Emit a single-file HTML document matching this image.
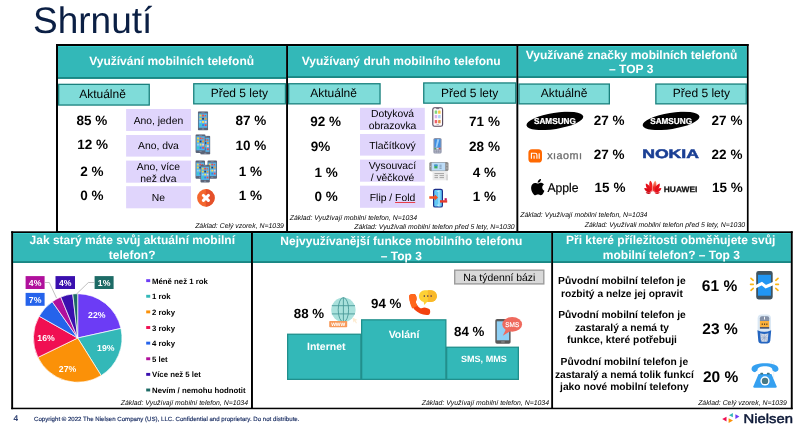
<!DOCTYPE html>
<html><head><meta charset="utf-8"><title>Shrnutí</title>
<style>
html,body{margin:0;padding:0;background:#fff;width:800px;height:430px;overflow:hidden;}
body{width:800px;height:430px;position:relative;overflow:hidden;font-family:"Liberation Sans",sans-serif;text-rendering:geometricPrecision;}
.t{position:absolute;white-space:nowrap;}
.b{position:absolute;box-sizing:border-box;}
</style></head><body><div id="c" style="position:absolute;left:0;top:0;width:800px;height:430px;overflow:hidden;"><div id="w" style="position:absolute;left:0;top:0;width:800px;height:430px;opacity:0.9999;will-change:transform;">
<svg class="b" style="left:0;top:0" width="800" height="430" viewBox="0 0 800 430"><rect x="58.00" y="46.00" width="228.10" height="32.80" fill="#33b8b8"/><rect x="58.00" y="46.00" width="228.10" height="0.90" fill="#3acfcf"/><rect x="58.00" y="77.10" width="228.10" height="1.70" fill="#17827f"/><rect x="288.00" y="46.00" width="228.40" height="31.90" fill="#33b8b8"/><rect x="288.00" y="46.00" width="228.40" height="0.90" fill="#3acfcf"/><rect x="288.00" y="76.20" width="228.40" height="1.70" fill="#17827f"/><rect x="518.30" y="46.00" width="228.60" height="31.90" fill="#33b8b8"/><rect x="518.30" y="46.00" width="228.60" height="0.90" fill="#3acfcf"/><rect x="518.30" y="76.20" width="228.60" height="1.70" fill="#17827f"/><rect x="56.00" y="44.00" width="2.00" height="189.00" fill="#000"/><rect x="56.00" y="44.00" width="692.60" height="2.00" fill="#000"/><rect x="746.90" y="44.00" width="1.70" height="189.00" fill="#000"/><rect x="286.10" y="44.00" width="1.90" height="189.00" fill="#000"/><rect x="516.40" y="44.00" width="1.90" height="189.00" fill="#000"/><rect x="58.65" y="84.35" width="90.60" height="20.70" fill="#7fdcd9" stroke="#1a807d" stroke-width="1.3"/><rect x="193.75" y="83.75" width="91.70" height="20.10" fill="#7fdcd9" stroke="#1a807d" stroke-width="1.3"/><rect x="288.65" y="83.75" width="91.40" height="20.10" fill="#7fdcd9" stroke="#1a807d" stroke-width="1.3"/><rect x="423.75" y="82.95" width="92.00" height="20.20" fill="#7fdcd9" stroke="#1a807d" stroke-width="1.3"/><rect x="518.95" y="84.05" width="90.40" height="19.80" fill="#7fdcd9" stroke="#1a807d" stroke-width="1.3"/><rect x="655.85" y="84.05" width="90.40" height="19.80" fill="#7fdcd9" stroke="#1a807d" stroke-width="1.3"/><rect x="126.10" y="109.00" width="64.90" height="22.00" fill="#e0d5fc"/><rect x="126.10" y="135.00" width="64.90" height="21.60" fill="#e0d5fc"/><rect x="126.10" y="160.60" width="64.90" height="22.10" fill="#e0d5fc"/><rect x="126.10" y="186.20" width="64.90" height="22.10" fill="#e0d5fc"/><rect x="360.00" y="107.80" width="64.80" height="22.20" fill="#e0d5fc"/><rect x="360.00" y="134.00" width="64.80" height="21.60" fill="#e0d5fc"/><rect x="360.00" y="159.60" width="64.80" height="22.10" fill="#e0d5fc"/><rect x="360.00" y="185.70" width="64.80" height="22.10" fill="#e0d5fc"/><rect x="13.10" y="233.00" width="237.90" height="29.90" fill="#33b8b8"/><rect x="13.10" y="233.00" width="237.90" height="0.90" fill="#3acfcf"/><rect x="13.10" y="261.20" width="237.90" height="1.70" fill="#17827f"/><rect x="252.95" y="233.00" width="298.25" height="29.90" fill="#33b8b8"/><rect x="252.95" y="233.00" width="298.25" height="0.90" fill="#3acfcf"/><rect x="252.95" y="261.20" width="298.25" height="1.70" fill="#17827f"/><rect x="553.05" y="233.00" width="237.75" height="29.90" fill="#33b8b8"/><rect x="553.05" y="233.00" width="237.75" height="0.90" fill="#3acfcf"/><rect x="553.05" y="261.20" width="237.75" height="1.70" fill="#17827f"/><rect x="11.20" y="231.30" width="1.90" height="177.90" fill="#000"/><rect x="11.20" y="231.30" width="781.50" height="1.70" fill="#000"/><rect x="790.80" y="231.30" width="1.90" height="177.90" fill="#000"/><rect x="11.20" y="407.70" width="781.50" height="1.50" fill="#000"/><rect x="251.00" y="231.30" width="1.95" height="177.70" fill="#000"/><rect x="551.20" y="231.30" width="1.85" height="177.70" fill="#000"/><rect x="56.00" y="231.00" width="692.60" height="2.00" fill="#000"/><rect x="146.20" y="279.20" width="4.00" height="2.90" fill="#6c3cf5"/><rect x="146.20" y="294.82" width="4.00" height="2.90" fill="#33b8b8"/><rect x="146.20" y="310.44" width="4.00" height="2.90" fill="#fb9108"/><rect x="146.20" y="326.06" width="4.00" height="2.90" fill="#f00f52"/><rect x="146.20" y="341.68" width="4.00" height="2.90" fill="#2563eb"/><rect x="146.20" y="357.30" width="4.00" height="2.90" fill="#b0109c"/><rect x="146.20" y="372.92" width="4.00" height="2.90" fill="#3a0fae"/><rect x="146.20" y="388.54" width="4.00" height="2.90" fill="#1d6b66"/><rect x="25.60" y="276.10" width="19.00" height="12.90" fill="#b0109c"/><rect x="55.50" y="276.10" width="19.50" height="12.90" fill="#3a0fae"/><rect x="94.60" y="276.10" width="19.00" height="12.90" fill="#1d6b66"/><rect x="25.60" y="292.90" width="19.00" height="12.90" fill="#2563eb"/><rect x="454.70" y="270.20" width="89.10" height="13.70" fill="#d9d9d9" stroke="#9c9c9c" stroke-width="1.4"/><rect x="287.65" y="334.25" width="73.20" height="45.10" fill="#33b8b8" stroke="#208f8c" stroke-width="1.3"/><rect x="361.65" y="319.85" width="84.20" height="59.50" fill="#33b8b8" stroke="#208f8c" stroke-width="1.3"/><rect x="446.65" y="347.25" width="71.70" height="32.10" fill="#33b8b8" stroke="#208f8c" stroke-width="1.3"/></svg>
<div class="t" style="left:33.00px;top:-2px;font-size:37px;line-height:45px;color:#0b1f44;">Shrnutí</div>
<div class="t" style="left:-28.35px;width:400px;text-align:center;top:54px;font-size:12px;line-height:15px;font-weight:bold;color:#fff;">Využívání mobilních telefonů</div>
<div class="t" style="left:201.25px;width:400px;text-align:center;top:54px;font-size:12px;line-height:15px;font-weight:bold;color:#fff;">Využívaný druh mobilního telefonu</div>
<div class="t" style="left:431.50px;width:400px;text-align:center;top:48px;font-size:12px;line-height:15px;font-weight:bold;color:#fff;">Využívané značky mobilních telefonů</div>
<div class="t" style="left:431.20px;width:400px;text-align:center;top:62px;font-size:12px;line-height:15px;font-weight:bold;color:#fff;">– TOP 3</div>
<div class="t" style="left:-97.50px;width:400px;text-align:center;top:87px;font-size:12px;line-height:15px;color:#000;">Aktuálně</div>
<div class="t" style="left:39.35px;width:400px;text-align:center;top:86px;font-size:12px;line-height:15px;color:#000;">Před 5 lety</div>
<div class="t" style="left:133.60px;width:400px;text-align:center;top:86px;font-size:12px;line-height:15px;color:#000;">Aktuálně</div>
<div class="t" style="left:269.70px;width:400px;text-align:center;top:86px;font-size:12px;line-height:15px;color:#000;">Před 5 lety</div>
<div class="t" style="left:364.00px;width:400px;text-align:center;top:86px;font-size:12px;line-height:15px;color:#000;">Aktuálně</div>
<div class="t" style="left:501.40px;width:400px;text-align:center;top:86px;font-size:12px;line-height:15px;color:#000;">Před 5 lety</div>
<div class="t" style="left:-41.60px;width:400px;text-align:center;top:115px;font-size:10.35px;line-height:13px;color:#000;">Ano, jeden</div>
<div class="t" style="left:-41.60px;width:400px;text-align:center;top:140px;font-size:10.35px;line-height:13px;color:#000;">Ano, dva</div>
<div class="t" style="left:-41.60px;width:400px;text-align:center;top:161px;font-size:10.35px;line-height:13px;color:#000;">Ano, více</div>
<div class="t" style="left:-41.60px;width:400px;text-align:center;top:173px;font-size:10.35px;line-height:13px;color:#000;">než dva</div>
<div class="t" style="left:-41.60px;width:400px;text-align:center;top:192px;font-size:10.35px;line-height:13px;color:#000;">Ne</div>
<div class="t" style="left:192.50px;width:400px;text-align:center;top:108px;font-size:10.35px;line-height:13px;color:#000;">Dotyková</div>
<div class="t" style="left:192.50px;width:400px;text-align:center;top:120px;font-size:10.35px;line-height:13px;color:#000;">obrazovka</div>
<div class="t" style="left:192.50px;width:400px;text-align:center;top:140px;font-size:10.35px;line-height:13px;color:#000;">Tlačítkový</div>
<div class="t" style="left:192.50px;width:400px;text-align:center;top:160px;font-size:10.35px;line-height:13px;color:#000;">Vysouvací</div>
<div class="t" style="left:192.50px;width:400px;text-align:center;top:172px;font-size:10.35px;line-height:13px;color:#000;">/ věčkové</div>
<div class="t" style="left:192.50px;width:400px;text-align:center;top:192px;font-size:10.35px;line-height:13px;color:#000;">Flip / <span style="text-decoration:underline solid #e8404a 0.7px;text-underline-offset:0.6px;">Fold</span></div>
<div class="t" style="left:-108.10px;width:400px;text-align:center;top:112px;font-size:13.5px;line-height:17px;font-weight:bold;color:#000;">85 %</div>
<div class="t" style="left:-107.30px;width:400px;text-align:center;top:136px;font-size:13.5px;line-height:17px;font-weight:bold;color:#000;">12 %</div>
<div class="t" style="left:-108.20px;width:400px;text-align:center;top:163px;font-size:13.5px;line-height:17px;font-weight:bold;color:#000;">2 %</div>
<div class="t" style="left:-108.20px;width:400px;text-align:center;top:187px;font-size:13.5px;line-height:17px;font-weight:bold;color:#000;">0 %</div>
<div class="t" style="left:50.80px;width:400px;text-align:center;top:112px;font-size:13.5px;line-height:17px;font-weight:bold;color:#000;">87 %</div>
<div class="t" style="left:50.80px;width:400px;text-align:center;top:137px;font-size:13.5px;line-height:17px;font-weight:bold;color:#000;">10 %</div>
<div class="t" style="left:50.50px;width:400px;text-align:center;top:163px;font-size:13.5px;line-height:17px;font-weight:bold;color:#000;">1 %</div>
<div class="t" style="left:50.50px;width:400px;text-align:center;top:187px;font-size:13.5px;line-height:17px;font-weight:bold;color:#000;">1 %</div>
<div class="t" style="left:125.70px;width:400px;text-align:center;top:113px;font-size:13.5px;line-height:17px;font-weight:bold;color:#000;">92 %</div>
<div class="t" style="left:120.50px;width:400px;text-align:center;top:138px;font-size:13.5px;line-height:17px;font-weight:bold;color:#000;">9%</div>
<div class="t" style="left:126.20px;width:400px;text-align:center;top:164px;font-size:13.5px;line-height:17px;font-weight:bold;color:#000;">1 %</div>
<div class="t" style="left:126.20px;width:400px;text-align:center;top:188px;font-size:13.5px;line-height:17px;font-weight:bold;color:#000;">0 %</div>
<div class="t" style="left:284.50px;width:400px;text-align:center;top:113px;font-size:13.5px;line-height:17px;font-weight:bold;color:#000;">71 %</div>
<div class="t" style="left:284.50px;width:400px;text-align:center;top:138px;font-size:13.5px;line-height:17px;font-weight:bold;color:#000;">28 %</div>
<div class="t" style="left:284.40px;width:400px;text-align:center;top:164px;font-size:13.5px;line-height:17px;font-weight:bold;color:#000;">4 %</div>
<div class="t" style="left:284.40px;width:400px;text-align:center;top:188px;font-size:13.5px;line-height:17px;font-weight:bold;color:#000;">1 %</div>
<div class="t" style="left:409.10px;width:400px;text-align:center;top:112px;font-size:13.5px;line-height:17px;font-weight:bold;color:#000;">27 %</div>
<div class="t" style="left:409.10px;width:400px;text-align:center;top:146px;font-size:13.5px;line-height:17px;font-weight:bold;color:#000;">27 %</div>
<div class="t" style="left:410.00px;width:400px;text-align:center;top:179px;font-size:13.5px;line-height:17px;font-weight:bold;color:#000;">15 %</div>
<div class="t" style="left:527.00px;width:400px;text-align:center;top:112px;font-size:13.5px;line-height:17px;font-weight:bold;color:#000;">27 %</div>
<div class="t" style="left:527.00px;width:400px;text-align:center;top:146px;font-size:13.5px;line-height:17px;font-weight:bold;color:#000;">22 %</div>
<div class="t" style="left:527.30px;width:400px;text-align:center;top:179px;font-size:13.5px;line-height:17px;font-weight:bold;color:#000;">15 %</div>
<div class="t" style="left:-116.20px;width:400px;text-align:right;top:222px;font-size:6.9px;line-height:9px;font-style:italic;color:#000;">Základ: Celý vzorek, N=1039</div>
<div class="t" style="left:289.75px;top:214px;font-size:6.9px;line-height:9px;font-style:italic;color:#000;">Základ: Využívají mobilní telefon, N=1034</div>
<div class="t" style="left:354.20px;top:223px;font-size:6.9px;line-height:9px;font-style:italic;color:#000;">Základ: Využívali mobilní telefon před 5 lety, N=1030</div>
<div class="t" style="left:520.20px;top:211px;font-size:6.9px;line-height:9px;font-style:italic;color:#000;">Základ: Využívají mobilní telefon, N=1034</div>
<div class="t" style="left:584.70px;top:221px;font-size:6.9px;line-height:9px;font-style:italic;color:#000;">Základ: Využívali mobilní telefon před 5 lety, N=1030</div>
<div class="t" style="left:-67.70px;width:400px;text-align:center;top:233px;font-size:12px;line-height:15px;font-weight:bold;color:#fff;">Jak starý máte svůj aktuální mobilní</div>
<div class="t" style="left:-67.80px;width:400px;text-align:center;top:248px;font-size:12px;line-height:15px;font-weight:bold;color:#fff;">telefon?</div>
<div class="t" style="left:201.40px;width:400px;text-align:center;top:234px;font-size:12px;line-height:15px;font-weight:bold;color:#fff;">Nejvyužívanější funkce mobilního telefonu</div>
<div class="t" style="left:201.40px;width:400px;text-align:center;top:249px;font-size:12px;line-height:15px;font-weight:bold;color:#fff;">– Top 3</div>
<div class="t" style="left:470.70px;width:400px;text-align:center;top:233px;font-size:12px;line-height:15px;font-weight:bold;color:#fff;">Při které příležitosti obměňujete svůj</div>
<div class="t" style="left:471.40px;width:400px;text-align:center;top:248px;font-size:12px;line-height:15px;font-weight:bold;color:#fff;">mobilní telefon? – Top 3</div>
<div class="t" style="left:152.00px;top:277px;font-size:7.8px;line-height:10px;font-weight:bold;color:#000;">Méně než 1 rok</div>
<div class="t" style="left:152.00px;top:292px;font-size:7.8px;line-height:10px;font-weight:bold;color:#000;">1 rok</div>
<div class="t" style="left:152.00px;top:308px;font-size:7.8px;line-height:10px;font-weight:bold;color:#000;">2 roky</div>
<div class="t" style="left:152.00px;top:324px;font-size:7.8px;line-height:10px;font-weight:bold;color:#000;">3 roky</div>
<div class="t" style="left:152.00px;top:339px;font-size:7.8px;line-height:10px;font-weight:bold;color:#000;">4 roky</div>
<div class="t" style="left:152.00px;top:355px;font-size:7.8px;line-height:10px;font-weight:bold;color:#000;">5 let</div>
<div class="t" style="left:152.00px;top:370px;font-size:7.8px;line-height:10px;font-weight:bold;color:#000;">Více než 5 let</div>
<div class="t" style="left:152.00px;top:386px;font-size:7.8px;line-height:10px;font-weight:bold;color:#000;">Nevím / nemohu hodnotit</div>
<div class="t" style="left:-152.00px;width:400px;text-align:right;top:399px;font-size:6.9px;line-height:9px;font-style:italic;color:#000;">Základ: Využívají mobilní telefon, N=1034</div>
<div class="t" style="left:149.00px;width:400px;text-align:right;top:399px;font-size:6.9px;line-height:9px;font-style:italic;color:#000;">Základ: Využívají mobilní telefon, N=1034</div>
<div class="t" style="left:386.80px;width:400px;text-align:right;top:399px;font-size:6.9px;line-height:9px;font-style:italic;color:#000;">Základ: Celý vzorek, N=1039</div>
<svg class="b" style="left:0;top:0" width="800" height="430" viewBox="0 0 800 430"><path d="M77.7,338 L77.70,293.70 A44.3,44.3 0 0 1 120.95,328.41 Z" fill="#6c3cf5" stroke="#fff" stroke-width="0.7" stroke-linejoin="round"/><path d="M77.7,338 L120.95,328.41 A44.3,44.3 0 0 1 101.18,375.57 Z" fill="#33b8b8" stroke="#fff" stroke-width="0.7" stroke-linejoin="round"/><path d="M77.7,338 L101.18,375.57 A44.3,44.3 0 0 1 37.88,357.42 Z" fill="#fb9108" stroke="#fff" stroke-width="0.7" stroke-linejoin="round"/><path d="M77.7,338 L37.88,357.42 A44.3,44.3 0 0 1 39.14,316.19 Z" fill="#f00f52" stroke="#fff" stroke-width="0.7" stroke-linejoin="round"/><path d="M77.7,338 L39.14,316.19 A44.3,44.3 0 0 1 52.29,301.71 Z" fill="#2563eb" stroke="#fff" stroke-width="0.7" stroke-linejoin="round"/><path d="M77.7,338 L52.29,301.71 A44.3,44.3 0 0 1 60.75,297.07 Z" fill="#b0109c" stroke="#fff" stroke-width="0.7" stroke-linejoin="round"/><path d="M77.7,338 L60.75,297.07 A44.3,44.3 0 0 1 72.76,293.98 Z" fill="#3a0fae" stroke="#fff" stroke-width="0.7" stroke-linejoin="round"/><path d="M77.7,338 L72.76,293.98 A44.3,44.3 0 0 1 77.70,293.70 Z" fill="#1d6b66" stroke="#fff" stroke-width="0.7" stroke-linejoin="round"/><path d="M44.6,282.5 H49.3 L56.5,298" fill="none" stroke="#a6a6a6" stroke-width="0.7"/><path d="M94.6,282.5 H88.4 L76.5,294" fill="none" stroke="#a6a6a6" stroke-width="0.7"/></svg>
<div class="t" style="left:-164.90px;width:400px;text-align:center;top:278px;font-size:8.7px;line-height:11px;font-weight:bold;color:#fff;">4%</div>
<div class="t" style="left:-134.75px;width:400px;text-align:center;top:278px;font-size:8.7px;line-height:11px;font-weight:bold;color:#fff;">4%</div>
<div class="t" style="left:-95.90px;width:400px;text-align:center;top:278px;font-size:8.7px;line-height:11px;font-weight:bold;color:#fff;">1%</div>
<div class="t" style="left:-164.90px;width:400px;text-align:center;top:295px;font-size:8.7px;line-height:11px;font-weight:bold;color:#fff;">7%</div>
<div class="t" style="left:-103.20px;width:400px;text-align:center;top:310px;font-size:8.7px;line-height:11px;font-weight:bold;color:#fff;">22%</div>
<div class="t" style="left:-94.20px;width:400px;text-align:center;top:343px;font-size:8.7px;line-height:11px;font-weight:bold;color:#fff;">19%</div>
<div class="t" style="left:-132.50px;width:400px;text-align:center;top:364px;font-size:8.7px;line-height:11px;font-weight:bold;color:#fff;">27%</div>
<div class="t" style="left:-154.00px;width:400px;text-align:center;top:333px;font-size:8.7px;line-height:11px;font-weight:bold;color:#fff;">16%</div>
<div class="t" style="left:299.25px;width:400px;text-align:center;top:272px;font-size:10.4px;line-height:13px;color:#000;">Na týdenní bázi</div>
<div class="t" style="left:126.30px;width:400px;text-align:center;top:341px;font-size:10.5px;line-height:13px;font-weight:bold;color:#fff;">Internet</div>
<div class="t" style="left:204.00px;width:400px;text-align:center;top:329px;font-size:10.5px;line-height:13px;font-weight:bold;color:#fff;">Volání</div>
<div class="t" style="left:283.90px;width:400px;text-align:center;top:354px;font-size:9.05px;line-height:11px;font-weight:bold;color:#fff;">SMS, MMS</div>
<div class="t" style="left:109.00px;width:400px;text-align:center;top:306px;font-size:13.3px;line-height:16px;font-weight:bold;color:#000;">88 %</div>
<div class="t" style="left:186.20px;width:400px;text-align:center;top:296px;font-size:13.3px;line-height:16px;font-weight:bold;color:#000;">94 %</div>
<div class="t" style="left:269.20px;width:400px;text-align:center;top:324px;font-size:13.3px;line-height:16px;font-weight:bold;color:#000;">84 %</div>
<div class="t" style="left:421.90px;width:400px;text-align:center;top:275px;font-size:10.25px;line-height:13px;font-weight:bold;color:#000;">Původní mobilní telefon je</div>
<div class="t" style="left:421.90px;width:400px;text-align:center;top:288px;font-size:10.25px;line-height:13px;font-weight:bold;color:#000;">rozbitý a nelze jej opravit</div>
<div class="t" style="left:422.00px;width:400px;text-align:center;top:309px;font-size:10.25px;line-height:13px;font-weight:bold;color:#000;">Původní mobilní telefon je</div>
<div class="t" style="left:422.00px;width:400px;text-align:center;top:322px;font-size:10.25px;line-height:13px;font-weight:bold;color:#000;">zastaralý a nemá ty</div>
<div class="t" style="left:422.00px;width:400px;text-align:center;top:334px;font-size:10.25px;line-height:13px;font-weight:bold;color:#000;">funkce, které potřebuji</div>
<div class="t" style="left:424.40px;width:400px;text-align:center;top:356px;font-size:10.25px;line-height:13px;font-weight:bold;color:#000;">Původní mobilní telefon je</div>
<div class="t" style="left:424.40px;width:400px;text-align:center;top:369px;font-size:10.25px;line-height:13px;font-weight:bold;color:#000;">zastaralý a nemá tolik funkcí</div>
<div class="t" style="left:424.40px;width:400px;text-align:center;top:381px;font-size:10.25px;line-height:13px;font-weight:bold;color:#000;">jako nové mobilní telefony</div>
<div class="t" style="left:519.50px;width:400px;text-align:center;top:277px;font-size:15.5px;line-height:19px;font-weight:bold;color:#000;">61 %</div>
<div class="t" style="left:520.00px;width:400px;text-align:center;top:320px;font-size:15.5px;line-height:19px;font-weight:bold;color:#000;">23 %</div>
<div class="t" style="left:520.60px;width:400px;text-align:center;top:368px;font-size:15.5px;line-height:19px;font-weight:bold;color:#000;">20 %</div>
<div class="t" style="left:13.60px;top:413px;font-size:8.4px;line-height:11px;color:#1a2e63;-webkit-text-stroke:0.2px #1a2e63;">4</div>
<div class="t" style="left:34.00px;top:416px;font-size:6.1px;line-height:8px;color:#1a2e63;-webkit-text-stroke:0.15px #1a2e63;">Copyright © 2022 The Nielsen Company (US), LLC. Confidential and proprietary. Do not distribute.</div>
<svg class="b" style="left:0;top:0" width="800" height="430" viewBox="0 0 800 430" font-family="Liberation Sans, sans-serif" text-rendering="geometricPrecision">
<defs>
<symbol id="ph" viewBox="0 0 10.4 19.2">
<rect x="0" y="0" width="10.4" height="19.2" rx="1.3" fill="#5b6478"/>
<rect x="0.9" y="2.1" width="8.6" height="14.4" fill="#55b3ea"/>
<rect x="3.6" y="0.8" width="3.2" height="0.6" fill="#8d95a8"/>
<rect x="4" y="17.3" width="2.4" height="1" rx="0.4" fill="#8d95a8"/>
<rect x="1.7" y="3.3" width="1.9" height="1.9" fill="#fbd23a"/><rect x="4.3" y="3.3" width="1.9" height="1.9" fill="#ef4b4b"/><rect x="6.9" y="3.7" width="1.4" height="1.4" fill="#e8603a"/>
<rect x="1.7" y="6.5" width="1.9" height="1.9" fill="#fbd23a"/><rect x="4.3" y="6.5" width="1.9" height="1.9" fill="#2d3f6b"/><rect x="6.9" y="6.5" width="1.9" height="1.9" fill="#f59a2f"/>
<rect x="1.7" y="9.7" width="1.9" height="1.9" fill="#8fd4f5"/><rect x="4.3" y="9.7" width="1.9" height="1.9" fill="#fbe04a"/><rect x="6.9" y="9.7" width="1.9" height="1.9" fill="#f7c6cf"/>
<rect x="1.7" y="12.9" width="1.9" height="1.9" fill="#2fd6c4"/><rect x="4.3" y="12.9" width="1.9" height="1.9" fill="#3b7fe0"/><rect x="6.9" y="12.9" width="1.9" height="1.9" fill="#ef4b4b"/>
</symbol>
<symbol id="sam" viewBox="-30 -10 60 20">
<ellipse cx="0" cy="0" rx="29.5" ry="8.3" transform="rotate(-9)" fill="#000"/>
<text x="0" y="3.2" font-size="8.8" font-weight="bold" fill="#fff" stroke="#fff" stroke-width="0.25" text-anchor="middle" textLength="43" lengthAdjust="spacingAndGlyphs">SAMSUNG</text>
</symbol>
<linearGradient id="hwg" x1="0" y1="0" x2="0" y2="1"><stop offset="0" stop-color="#f9a57c"/><stop offset="0.6" stop-color="#ee2a22"/></linearGradient>
</defs>
<!-- panel 1 phones -->
<use href="#ph" x="197.8" y="111.3" width="10.4" height="19.2"/>
<use href="#ph" x="200.2" y="135.5" width="10.2" height="19.2"/>
<use href="#ph" x="195.3" y="134.2" width="10.4" height="18.8"/>
<use href="#ph" x="195.3" y="160" width="9.8" height="19.2"/>
<use href="#ph" x="207.3" y="160" width="9.8" height="19.2"/>
<use href="#ph" x="200.3" y="164.2" width="9.6" height="18.8"/>
<!-- X icon -->
<circle cx="205.9" cy="197.9" r="8.8" fill="#f4672e"/>
<path d="M205.9,189.1 A8.8,8.8 0 0 1 205.9,206.7 Z" fill="#e4502a"/>
<g transform="translate(205.9 197.9) rotate(45)"><rect x="-5" y="-1.5" width="10" height="3" rx="1.2" fill="#fff"/><rect x="-1.5" y="-5" width="3" height="10" rx="1.2" fill="#fff"/></g>
<!-- touch phone -->
<rect x="432.8" y="107.7" width="9.8" height="18.6" rx="1.8" fill="#fffafa" stroke="#54455a" stroke-width="1.1"/>
<rect x="436.2" y="108.3" width="3" height="0.8" fill="#54455a"/>
<rect x="436.5" y="124.4" width="2.400" height="0.500" fill="#8a7a8f"/>
<rect x="434.700" y="110.600" width="2.500" height="3.200" rx="0.400" fill="#7ed67e"/><rect x="438.100" y="110.600" width="2.500" height="3.200" rx="0.400" fill="#f7c744"/>
<rect x="434.700" y="115.100" width="2.500" height="3.200" rx="0.400" fill="#d9b3f0"/><rect x="438.100" y="115.100" width="2.500" height="3.200" rx="0.400" fill="#a9d4f7"/>
<rect x="434.700" y="120.100" width="2.500" height="3.200" rx="0.400" fill="#f0606a"/><rect x="438.100" y="120.100" width="2.500" height="3.200" rx="0.400" fill="#d99545"/>
<!-- button phone -->
<rect x="433.400" y="137.900" width="8.200" height="15.700" rx="1.600" fill="#8e93a8"/>
<rect x="434.500" y="139.200" width="6" height="8.200" fill="#3f8fe3"/>
<path d="M437.200,139.200 L439.400,139.200 L437.200,147.400 L435.600,147.400 Z" fill="#9ccdf7"/>
<rect x="434.500" y="148.100" width="1.700" height="1.100" fill="#3fae5a"/><rect x="438.800" y="148.100" width="1.700" height="1.100" fill="#e04545"/>
<rect x="436.500" y="147.900" width="2" height="1.500" fill="#dfe1ea"/>
<rect x="434.500" y="149.900" width="6" height="2.800" fill="#b3b7c6"/>
<path d="M436.500,149.900 V152.700 M438.500,149.900 V152.700 M434.500,151.300 H440.500" stroke="#7f8499" stroke-width="0.400"/>
<!-- slider phone -->
<rect x="429.3" y="162" width="19.2" height="9.2" rx="1.6" fill="#8d8d8d"/>
<rect x="431.6" y="162.6" width="13.6" height="8" fill="#bcdcf7"/>
<rect x="434.3" y="164.6" width="3.2" height="3.8" fill="#3fae5a"/><rect x="434.3" y="164.6" width="3.2" height="1.6" fill="#3f8fe3"/>
<path d="M439.5,165.2 H441.6 M439.5,166.8 H441.6 M439.5,168.3 H441.6" stroke="#55708f" stroke-width="0.6"/>
<circle cx="446.9" cy="165" r="0.6" fill="#ddd"/><circle cx="446.9" cy="168" r="0.6" fill="#ddd"/><circle cx="430.4" cy="166.5" r="0.4" fill="#ddd"/>
<rect x="432.6" y="171.2" width="15.2" height="9.1" fill="#ececec"/>
<rect x="446.2" y="174.5" width="1.6" height="5.8" fill="#d0d0d0"/>
<path d="M434.5,173.6 H444 M434.5,175.6 H438 M439.5,175.6 H444 M434.5,177.6 H438 M439.5,177.6 H444" stroke="#9c9c9c" stroke-width="0.9"/>
<!-- flip phone -->
<rect x="433.6" y="189.3" width="8.8" height="17.7" rx="1.6" fill="#62c8f5" stroke="#1c2f8a" stroke-width="1.2"/>
<rect x="438" y="190" width="2.2" height="16.4" fill="#8edcfa"/>
<rect x="436.8" y="190.9" width="2.4" height="0.6" fill="#e8f8ff"/><rect x="436.8" y="204.8" width="2.4" height="0.7" fill="#e8f8ff"/>
<path d="M429.3,196.3 H434.8 V194.6 L438,197.5 L434.8,200.4 V198.7 H429.3 Z" fill="#f4511e"/>
<path d="M440,200.2 H447.2 V202.6 H440 Z" fill="#e53a2a"/>
<path d="M444.6,198.2 H446.8 V200.4 H444.6 Z" fill="#c2185b"/>
<!-- Samsung -->
<use href="#sam" x="525.7" y="111.2" width="58.4" height="19.47"/>
<use href="#sam" x="641.9" y="111.2" width="58.4" height="19.47"/>
<!-- Xiaomi -->
<rect x="528.4" y="149.2" width="13.6" height="13.3" rx="3.6" fill="#ff6900"/>
<path d="M531.4,158.7 V153.3 H535.2 Q536.9,153.3 536.9,155 V158.7 M534.1,158.7 V155.4 M539.2,158.7 V153.3" fill="none" stroke="#fff" stroke-width="1.1"/>
<text x="547.2" y="158.7" font-size="10.8" fill="#6e6e6e" stroke="#6e6e6e" stroke-width="0.3" textLength="34.8" lengthAdjust="spacing">xıaomı</text>
<!-- Apple -->
<g transform="translate(531.1 178.9) scale(0.0163)">
<path fill="#000" d="M788.1 340.9c-5.8 4.5-108.2 62.2-108.2 190.5 0 148.4 130.300 200.900 134.200 202.200-.6 3.200-20.700 71.900-68.700 141.900-42.800 61.600-87.500 123.100-155.500 123.100s-85.500-39.500-164-39.500c-76.500 0-103.700 40.800-165.900 40.800s-105.600-57-155.500-127C46.700 790.700 0 663 0 541.800c0-194.400 126.400-297.500 250.800-297.500 66.100 0 121.200 43.400 162.700 43.400 39.500 0 101.100-46 176.300-46 28.500 0 130.900 2.600 198.300 99.200zm-234-181.500c31.100-36.900 53.100-88.100 53.100-139.300 0-7.100-.6-14.300-1.900-20.100-50.600 1.900-110.800 33.700-147.100 75.800-28.500 32.400-55.100 83.600-55.100 135.500 0 7.800 1.300 15.600 1.900 18.100 3.200.6 8.400 1.300 13.600 1.300 45.400 0 102.500-30.400 135.500-71.300z"/>
</g>
<text x="547.4" y="192.2" font-size="12.6" fill="#000" stroke="#000" stroke-width="0.2" textLength="31.2" lengthAdjust="spacingAndGlyphs">Apple</text>
<!-- NOKIA -->
<text x="642.2" y="157.9" font-size="12.5" font-weight="bold" fill="#1a3f94" stroke="#1a3f94" stroke-width="0.5" textLength="56.8" lengthAdjust="spacingAndGlyphs">NOKIA</text>
<!-- HUAWEI -->
<g transform="translate(652.8 192)" fill="#e60f1a">
<path d="M-0.4,-0.3 C-3.6,-3 -4.5,-8 -2.7,-11.2 C-0.2,-10 0.1,-5 -0.4,-0.3Z" fill="#ee1f1f"/>
<path d="M0.4,-0.3 C3.6,-3 4.5,-8 2.7,-11.2 C0.2,-10 -0.1,-5 0.4,-0.3Z" fill="url(#hwg)"/>
<path d="M-1.2,-0.1 C-5,-1.4 -7.700,-5 -6.900,-8.400 C-3.700,-7.300 -1.500,-4 -1.200,-0.100Z"/>
<path d="M1.200,-0.100 C5,-1.400 7.700,-5 6.900,-8.400 C3.700,-7.300 1.500,-4 1.200,-0.100Z"/>
<path d="M-1.700,0.400 C-5,1 -8.100,-0.800 -8.600,-4 C-5.500,-4.300 -2.700,-2.400 -1.700,0.400Z" fill="#d80a14"/>
<path d="M1.700,0.400 C5,1 8.100,-0.800 8.600,-4 C5.500,-4.300 2.700,-2.400 1.700,0.400Z"/>
<path d="M-1.900,1.100 C-3.600,2.500 -6.100,2.300 -7.200,0.600 C-5.300,-0.100 -3.200,0.100 -1.900,1.100Z" fill="#c4060f"/>
<path d="M1.900,1.100 C3.600,2.500 6.100,2.300 7.200,0.600 C5.300,-0.100 3.200,0.100 1.900,1.100Z" fill="#d80a14"/>
</g>
<text x="663.8" y="192.1" font-size="7.9" font-weight="bold" fill="#111" stroke="#111" stroke-width="0.25" textLength="33.5" lengthAdjust="spacingAndGlyphs">HUAWEI</text>
<!-- globe -->
<circle cx="343.4" cy="309.8" r="12.2" fill="#a9e1dc"/>
<g fill="none" stroke="#4a9a98" stroke-width="0.9">
<ellipse cx="343.4" cy="309.8" rx="5.2" ry="12.2"/>
<path d="M343.4,297.600 V322 M331.800,305.700 H355 M331.800,313.900 H355" stroke-width="0.9"/>
</g>
<path d="M352.500,317.500 L357.600,320 L355.600,320.600 L357,323 L356,323.500 L354.700,321.200 L353.400,322.600 Z" fill="#fdebd2"/>
<rect x="329.2" y="320.900" width="18" height="6.400" rx="0.8" fill="#f79a5a"/>
<text x="338.2" y="326.300" font-size="6.400" font-weight="bold" fill="#fff" text-anchor="middle" textLength="14" lengthAdjust="spacingAndGlyphs">www</text>
<!-- call icon -->
<path d="M409.2,297 C408.6,294.6 411,293.600 414.200,294 C415.800,294.400 416.400,296 416.600,298.400 C416.800,300.400 415.600,301 415.800,302.400 C416.800,305 418.400,307 420.400,308.200 C421.600,308.600 422.600,307.400 424.200,307.400 C426.400,307.600 428.600,308.400 429.800,309.400 C430.600,311.400 430.200,313.600 429,314.800 C419,316.400 409.600,307.600 409.200,297Z" fill="#f4420f"/>
<path d="M409.2,297 C408.6,294.6 411,293.600 414.200,294 C415.800,294.400 416.400,296 416.600,298.400 C416.800,300.400 415.600,301 415.800,302.400 C416.200,303.600 416.800,304.800 417.600,305.800 L412.200,308.400 C410.400,305 409.400,301.200 409.200,297Z" fill="#ff671c"/>
<path d="M424.500,290.300 H431.100 A5.850,5.850 0 0 1 431.100,302 H427 L424.200,305 L423.700,301.900 A5.850,5.850 0 0 1 424.500,290.300Z" fill="#fdd035"/>
<path d="M427.900,290.300 H431.100 A5.850,5.850 0 0 1 431.100,302 H427.900Z" fill="#f9b92b"/>
<rect x="423.700" y="295.400" width="1.300" height="1.300" fill="#3d2a5a"/><rect x="427.100" y="295.400" width="1.300" height="1.300" fill="#3d2a5a"/><rect x="430.500" y="295.400" width="1.300" height="1.300" fill="#3d2a5a"/>
<!-- sms icon -->
<rect x="495.300" y="319" width="15.300" height="24.700" rx="1.800" fill="#595959"/>
<rect x="496.800" y="321.300" width="12.300" height="19" fill="#8fd0f5"/>
<rect x="501.200" y="341.300" width="3.500" height="1.300" fill="#8a8a8a"/>
<path d="M502.800,335.800 L505.800,329.500 L510.500,331 Z" fill="#ef6a5e"/>
<ellipse cx="512.200" cy="324.400" rx="9.900" ry="7.300" fill="#ef6a5e"/>
<text x="512.200" y="326.900" font-size="6.800" fill="#fff" stroke="#fff" stroke-width="0.15" text-anchor="middle" textLength="14" lengthAdjust="spacingAndGlyphs">SMS</text>
<!-- broken phone -->
<rect x="756.200" y="271" width="16.500" height="28.400" rx="2.400" fill="#3f5360"/>
<rect x="758" y="274.800" width="12.900" height="20.900" fill="#2196f3"/>
<path d="M755.4,286.8 L761.8,283.600 L765.800,286.700 L773.400,283.500" fill="none" stroke="#fff" stroke-width="3" stroke-linejoin="miter"/>
<g stroke="#fbb615" stroke-width="1.700" stroke-linecap="round">
<path d="M751,278.300 L753.200,280.300 M750.600,284.300 H753.200 M751,290.300 L753.200,288.300 M775.800,280.300 L778,278.300 M775.800,284.300 H778.400 M775.800,288.300 L778,290.300"/>
</g>
<!-- old phone -->
<path d="M757.6,331.5 V318.5 Q757.6,314.500 761.600,314.500 H767 Q771,314.500 771,318.500 V331.500 Z" fill="#dbe8f4"/>
<path d="M759.900,321 V318.300 Q759.900,316.300 761.900,316.300 H767.200 Q769.200,316.300 769.200,318.300 V321 Z" fill="#7f8ca3"/>
<rect x="759.900" y="321" width="9.300" height="6.300" fill="#fbb03b"/>
<rect x="759.900" y="327.200" width="9.300" height="1.400" fill="#2d3a5a"/>
<path d="M760.300,318 H768.800 M760.300,319.400 H768.800" stroke="#9aa5b8" stroke-width="0.400"/>
<rect x="764.100" y="316.700" width="0.900" height="2.800" fill="#fff"/>
<rect x="761.700" y="323.500" width="1.100" height="1.400" fill="#4a3a20"/><rect x="764" y="323.500" width="1.100" height="1.400" fill="#4a3a20"/><rect x="766.300" y="323.500" width="1.100" height="1.400" fill="#4a3a20"/>
<path d="M757.400,330.200 Q764.300,333.400 771.200,330.200 L770.300,340.800 Q770,343.400 767.400,343.400 H761.200 Q758.600,343.400 758.300,340.800 Z" fill="#2465c0"/>
<path d="M760.200,333.200 Q764.300,334.600 768.400,333.200 L767.700,340.600 Q767.500,341.800 766.300,341.800 H762.300 Q761.100,341.800 760.900,340.600Z" fill="#cfd9e8"/>
<path d="M761,334.600 L767.600,341 M767.600,334.600 L761,341 M764.300,334.300 V341.600 M760.800,337.800 H767.800" stroke="#8fa3c4" stroke-width="0.600"/>
<!-- telephone -->
<path d="M772,371.500 C775.500,367 774,359.500 771.500,360.800 C770,361.800 774.500,366 773.600,378" fill="none" stroke="#e8e8e8" stroke-width="0.600"/>
<path d="M751.600,368.300 C752.200,361.500 777.800,361.500 778.400,368.300 C778.800,370.300 777.600,371.800 775,372 L772.400,370.200 C773.400,364.800 756.600,364.800 757.600,370.200 L755,372.200 C752.400,371.800 751.200,370.300 751.600,368.300Z" fill="#35a0f0"/>
<path d="M758.600,374 H771.400 L776.600,386.200 Q777,387.700 775.400,387.700 H754.600 Q753,387.700 753.400,386.200Z" fill="#35a0f0"/>
<rect x="760.300" y="372.800" width="2.800" height="1.600" rx="0.500" fill="#3f7480"/><rect x="766.900" y="372.800" width="2.800" height="1.600" rx="0.500" fill="#3f7480"/>
<circle cx="765" cy="380.900" r="4.600" fill="#fff"/><circle cx="765" cy="380.900" r="3.200" fill="#4a7a85"/>
<!-- Nielsen -->
<path d="M722.200,419.100 L726.500,416.700 V421.500Z" fill="#f00f52"/>
<path d="M729,415.200 L732.900,413 V417.300Z" fill="#33b8b8"/>
<path d="M739.400,416.600 L735.400,414.300 V418.900Z" fill="#6c3cf5"/>
<path d="M733,420.600 L728.600,418.300 V422.900Z" fill="#fb9108"/>
<text x="743.500" y="422.800" font-size="12.900" fill="#0b1736" stroke="#0b1736" stroke-width="0.450" textLength="49.500" lengthAdjust="spacingAndGlyphs">Nielsen</text>
</svg>

</div></div></body></html>
